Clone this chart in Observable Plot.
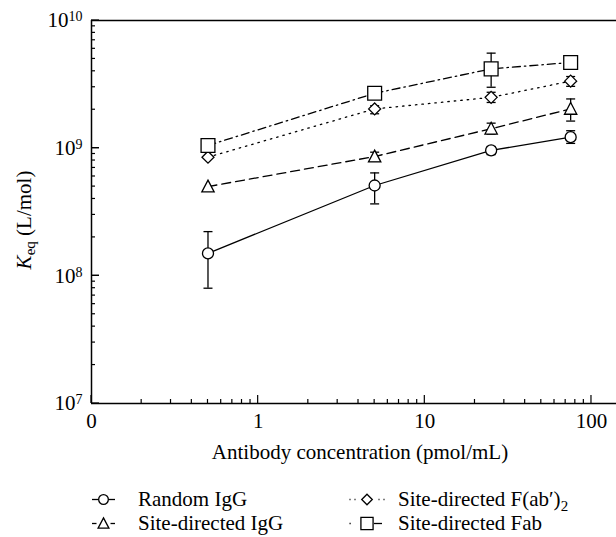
<!DOCTYPE html>
<html><head><meta charset="utf-8">
<script src="https://cdn.jsdelivr.net/npm/d3@7"></script>
<script src="https://cdn.jsdelivr.net/npm/@observablehq/plot@0.6"></script>
<style>
body{margin:0;background:#fff;}
#chart{width:616px;height:537px;overflow:hidden;background:#fff;}
svg{display:block;}
</style></head><body><div id="chart"></div>
<script>
// ---- data ----
const concentrations = [0.5, 5, 25, 75];
const seriesNames = ["Random IgG", "Site-directed IgG", "Site-directed F(ab′)2", "Site-directed Fab"];
const randomIgG   = [1.5e8, 5.1e8, 9.6e8, 1.22e9];
const randomIgGLo = [8.0e7, 3.66e8, 8.9e8, 1.09e9];
const randomIgGHi = [2.22e8, 6.4e8, 1.03e9, 1.37e9];
const siteIgG     = [5.0e8, 8.6e8, 1.42e9, 2.03e9];
const siteIgGLo   = [null, 7.9e8, 1.29e9, 1.63e9];
const siteIgGHi   = [null, 9.3e8, 1.57e9, 2.43e9];
const siteFab2    = [8.5e8, 2.03e9, 2.5e9, 3.35e9];
const siteFab2Lo  = [null, 1.86e9, 2.28e9, 3.05e9];
const siteFab2Hi  = [null, 2.15e9, 2.74e9, 3.64e9];
const siteFab     = [1.05e9, 2.69e9, 4.18e9, 4.69e9];
const siteFabLo   = [null, null, 3.0e9, null];
const siteFabHi   = [null, null, 5.55e9, null];
const xTickValues = [0.1, 1, 10, 100];
const xTickLabels = ["0", "1", "10", "100"];
const yTickValues = [1e7, 1e8, 1e9, 1e10];
const yTickExponents = ["7", "8", "9", "10"];

// ---- styles per series ----
const font = "'Liberation Serif','Times New Roman',serif";
const triSym = {draw(ctx, size){ const r = Math.sqrt(size/Math.PI); ctx.moveTo(0,-r*1.15); ctx.lineTo(r*1.1,r*0.95); ctx.lineTo(-r*1.1,r*0.95); ctx.closePath(); }};
const capSym = {draw(ctx, size){ const r = Math.sqrt(size/Math.PI); ctx.moveTo(-r,0); ctx.lineTo(r,0); }};
const styles = [
  {dash: null, symbol: "circle", r: 5.5, legend: [[-11.5, 11.5]]},
  {dash: "9,5", symbol: triSym, r: 5.6, legend: [[-11.5, -7], [7, 11.5]]},
  {dash: "1.5,5", symbol: "diamond2", r: 5.4, legend: [[-17.5, -16.5], [-12.5, -11.5], [11.5, 12.5], [16.5, 17.5]]},
  {dash: "8,4,1.5,4", symbol: "square", r: 7.8, legend: [[-17.5, -16.3], [7, 15]]}
];
const vals = [randomIgG, siteIgG, siteFab2, siteFab];
const los = [randomIgGLo, siteIgGLo, siteFab2Lo, siteFabLo];
const his = [randomIgGHi, siteIgGHi, siteFab2Hi, siteFabHi];
const rows = [];
seriesNames.forEach((s, k) => concentrations.forEach((c, i) =>
  rows.push({series: s, k, x: c, y: vals[k][i], lo: los[k][i], hi: his[k][i]})));
const errRows = rows.filter(d => d.lo != null);

const W = 616, H = 470;
const marks = [
  Plot.ruleY([1e10], {stroke: "#000", strokeWidth: 1.5}),
  Plot.ruleY([1e7], {stroke: "#000", strokeWidth: 1.5}),
  Plot.ruleX([0.1], {stroke: "#000", strokeWidth: 1.5})
];
styles.forEach((st, k) => marks.push(Plot.line(rows.filter(d => d.k === k),
  {x: "x", y: "y", stroke: "#000", strokeWidth: 1.3, strokeDasharray: st.dash})));
marks.push(Plot.ruleX(errRows, {x: "x", y1: "lo", y2: "hi", stroke: "#000", strokeWidth: 1.3}));
marks.push(Plot.dot(errRows, {x: "x", y: "lo", symbol: capSym, r: 4.5, stroke: "#000", strokeWidth: 1.3}));
marks.push(Plot.dot(errRows, {x: "x", y: "hi", symbol: capSym, r: 4.5, stroke: "#000", strokeWidth: 1.3}));
styles.forEach((st, k) => marks.push(Plot.dot(rows.filter(d => d.k === k),
  {x: "x", y: "y", symbol: st.symbol, r: st.r, fill: "#fff", stroke: "#000", strokeWidth: 1.3})));
marks.push(Plot.axisX(xTickValues, {tickSize: 0, tickPadding: 10, fontSize: 21,
  tickFormat: d => xTickLabels[xTickValues.indexOf(d)], label: null}));
marks.push(Plot.axisY(yTickValues, {tickSize: 0, tickPadding: 9, fontSize: 21,
  tickFormat: d => "10" + yTickExponents[yTickValues.indexOf(d)], label: null}));

const plot = Plot.plot({
  width: W, height: H, marginLeft: 91, marginRight: 0, marginTop: 20, marginBottom: 67,
  x: {type: "log", domain: [0.1, 141.3]},
  y: {type: "log", domain: [1e7, 1e10]},
  style: {fontFamily: font, fontSize: "21px", color: "#000", background: "#fff"},
  marks
});

// ---- post-processing: inward ticks, superscripts, axis titles ----
const xs = plot.scale("x"), ys = plot.scale("y");
const svg = d3.select(plot);
const x0 = xs.apply(0.1), yB = ys.apply(1e7);
const tg = svg.append("g").attr("stroke", "#000").attr("stroke-width", 1.2);
for (const dec of [0.1, 1, 10, 100]) for (let m = 1; m <= 9; m++) {
  const v = dec * m; if (v > 141) continue;
  const xx = xs.apply(v), len = m === 1 ? 8 : 4;
  tg.append("line").attr("x1", xx).attr("x2", xx).attr("y1", yB).attr("y2", yB - len);
}
for (const dec of [1e7, 1e8, 1e9]) for (let m = 1; m <= 10; m++) {
  const yy = ys.apply(dec * m), len = (m === 1 || m === 10) ? 8 : 4;
  tg.append("line").attr("x1", x0).attr("x2", x0 + len).attr("y1", yy).attr("y2", yy);
}
svg.selectAll('g[aria-label="y-axis tick label"] text').each(function() {
  const t = d3.select(this), s = t.text();
  t.text("10");
  t.append("tspan").attr("dy", "-0.42em").attr("font-size", "14px").text(s.slice(2));
});
svg.append("text").attr("x", 360).attr("y", 459).attr("text-anchor", "middle")
  .attr("font-size", 21).attr("fill", "#000").text("Antibody concentration (pmol/mL)");
const yl = svg.append("text").attr("transform", "translate(31,220) rotate(-90)")
  .attr("text-anchor", "middle").attr("font-size", 21).attr("fill", "#000");
yl.append("tspan").attr("font-style", "italic").text("K");
yl.append("tspan").attr("font-size", 15).attr("dy", 4).text("eq");
yl.append("tspan").attr("dy", -4).text(" (L/mol)");

document.getElementById("chart").appendChild(plot);

// ---- legend ----
const lg = d3.select("#chart").append("svg").attr("width", W).attr("height", 67)
  .style("font-family", font).style("font-size", "21px");
const legendItems = [
  {k: 0, col: 0, row: 0}, {k: 1, col: 0, row: 1}, {k: 2, col: 1, row: 0}, {k: 3, col: 1, row: 1}
];
const colCenter = [103.5, 367], colText = [138, 398], rowBase = [36, 60];
legendItems.forEach(it => {
  const cx = colCenter[it.col], cy = rowBase[it.row] - 6.5;
  const st = styles[it.k];
  st.legend.forEach(([a, b]) => lg.append("line").attr("x1", cx + a).attr("x2", cx + b)
    .attr("y1", cy).attr("y2", cy).attr("stroke", "#000").attr("stroke-width", 1.3));
  const sym = typeof st.symbol === "string" ? {circle: d3.symbolCircle, diamond2: d3.symbolDiamond2, square: d3.symbolSquare}[st.symbol] : st.symbol;
  const rr = st.r * 0.88;
  lg.append("path").attr("d", d3.symbol(sym, Math.PI * rr * rr)()).attr("transform", `translate(${cx},${cy})`)
    .attr("fill", "#fff").attr("stroke", "#000").attr("stroke-width", 1.3);
  const t = lg.append("text").attr("x", colText[it.col]).attr("y", rowBase[it.row]).attr("fill", "#000");
  if (it.k === 2) {
    t.append("tspan").text("Site-directed F(ab′)");
    t.append("tspan").attr("font-size", 15).attr("dy", 5).text("2");
  } else t.text(seriesNames[it.k]);
});
</script></body></html>
